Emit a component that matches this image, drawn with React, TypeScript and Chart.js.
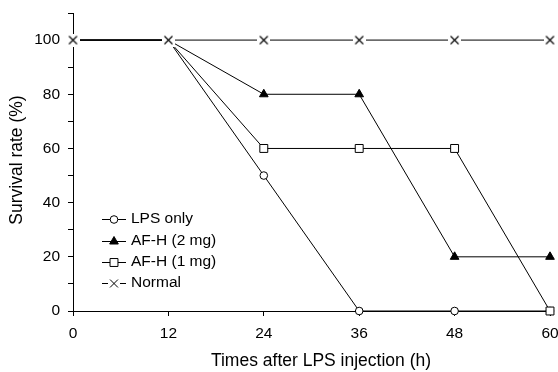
import React, { useEffect, useRef } from "react";
import { Chart, registerables } from "chart.js";

Chart.register(...registerables);

const hours = [0, 12, 24, 36, 48, 60];
const lpsOnly = [100, 100, 50, 0, 0, 0];
const afh2mg = [100, 100, 80, 80, 20, 20];
const afh1mg = [100, 100, 60, 60, 60, 0];
const normal = [100, 100, 100, 100, 100, 100];
const seriesNames = ["LPS only", "AF-H (2 mg)", "AF-H (1 mg)", "Normal"];
const yTickLabels = [0, 20, 40, 60, 80, 100];
const xTitle = "Times after LPS injection (h)";
const yTitle = "Survival rate (%)";

const FONT = "'Liberation Sans', Arial, sans-serif";

function makeCross(): HTMLCanvasElement {
  const c = document.createElement("canvas");
  c.width = 13;
  c.height = 13;
  const g = c.getContext("2d")!;
  g.fillStyle = "#ffffff";
  g.fillRect(0, 0, 13, 13);
  g.strokeStyle = "#000000";
  g.lineWidth = 1.1;
  g.beginPath();
  g.moveTo(2.5, 2.5);
  g.lineTo(10.5, 10.5);
  g.moveTo(2.5, 10.5);
  g.lineTo(10.5, 2.5);
  g.stroke();
  return c;
}

const styles = [
  { pointStyle: "circle", radius: 3.8, bg: "#ffffff" },
  { pointStyle: "triangle", radius: 5, bg: "#000000" },
  { pointStyle: "rect", radius: 5.6, bg: "#ffffff" },
  { pointStyle: "crossRot", radius: 5.6, bg: "#000000" },
];

function drawPointLocal(ctx: any, style: string, r: number, x: number, y: number) {
  ctx.beginPath();
  switch (style) {
    case "circle":
      ctx.arc(x, y, r, 0, Math.PI * 2);
      ctx.closePath();
      ctx.fill();
      ctx.stroke();
      break;
    case "triangle": {
      const a = -Math.PI / 2;
      for (let k = 0; k < 3; k++) {
        const ang = a + (k * 2 * Math.PI) / 3;
        const px = x + Math.cos(ang) * r;
        const py = y + Math.sin(ang) * r;
        if (k === 0) ctx.moveTo(px, py);
        else ctx.lineTo(px, py);
      }
      ctx.closePath();
      ctx.fill();
      ctx.stroke();
      break;
    }
    case "rect": {
      const s = Math.SQRT1_2 * r;
      ctx.rect(x - s, y - s, 2 * s, 2 * s);
      ctx.fill();
      ctx.stroke();
      break;
    }
    case "crossRot": {
      ctx.fillStyle = "#fff";
      ctx.fillRect(x - 6, y - 6, 12, 12);
      const s = Math.SQRT1_2 * r;
      ctx.beginPath();
      ctx.moveTo(x - s, y - s);
      ctx.lineTo(x + s, y + s);
      ctx.moveTo(x - s, y + s);
      ctx.lineTo(x + s, y - s);
      ctx.stroke();
      break;
    }
  }
}

const legendPlugin = {
  id: "insideLegend",
  afterDraw(chart: any) {
    const ctx = chart.ctx;
    const x1 = 102;
    const x2 = 126;
    const ys = [219, 241, 262, 283];
    ctx.save();
    seriesNames.forEach((name, i) => {
      const y = ys[i] + 0.5;
      const st = styles[i];
      ctx.strokeStyle = "#000";
      ctx.lineWidth = 1;
      ctx.beginPath();
      ctx.moveTo(x1, y);
      ctx.lineTo(x2, y);
      ctx.stroke();
      ctx.fillStyle = st.bg;
      ctx.strokeStyle = "#000";
      drawPointLocal(ctx, st.pointStyle, st.radius, (x1 + x2) / 2, y);
      ctx.fillStyle = "#000";
      ctx.font = `15.5px ${FONT}`;
      ctx.textBaseline = "middle";
      ctx.textAlign = "left";
      ctx.fillText(name, 131, ys[i]);
    });
    // axis titles
    ctx.font = `17.5px ${FONT}`;
    ctx.textAlign = "center";
    ctx.textBaseline = "middle";
    ctx.fillText(xTitle, 321, 361);
    ctx.translate(17.5, 160);
    ctx.rotate(-Math.PI / 2);
    ctx.fillText(yTitle, 0, 0);
    ctx.restore();
  },
};

export default function App() {
  const canvasRef = useRef<HTMLCanvasElement>(null);

  useEffect(() => {
    const canvas = canvasRef.current;
    if (!canvas) return;
    const cross = makeCross();
    const allSeries = [lpsOnly, afh2mg, afh1mg, normal];
    const chart = new Chart(canvas, {
      type: "line",
      data: {
        datasets: allSeries.map((vals, i) => ({
          label: seriesNames[i],
          data: hours.map((h, j) => ({ x: h, y: vals[j] })),
          borderColor: "#000000",
          borderWidth: 1,
          backgroundColor: styles[i].bg,
          pointBackgroundColor: styles[i].bg,
          pointBorderColor: "#000000",
          pointBorderWidth: 1,
          pointStyle: (i === 3 ? cross : styles[i].pointStyle) as any,
          pointRadius: i === 3 ? styles[i].radius : hours.map((h) => (h <= 12 ? 0 : styles[i].radius)),
          tension: 0,
          clip: false as any,
          order: 4 - i,
        })),
      },
      options: {
        animation: false,
        responsive: false,
        maintainAspectRatio: false,
        layout: { padding: { left: 0, top: 13, right: 8, bottom: 0 } },
        plugins: {
          legend: { display: false },
          tooltip: { enabled: false },
        },
        scales: {
          x: {
            type: "linear",
            min: 0,
            max: 60,
            border: { display: true, color: "#000", width: 1 },
            grid: { display: true, drawOnChartArea: false, drawTicks: true, tickLength: 5, color: "#000" },
            ticks: {
              stepSize: 12,
              color: "#000",
              font: { family: FONT, size: 15.5 },
              padding: 8,
              maxRotation: 0,
            },
            title: { display: false },
            afterFit: (scale: any) => {
              scale.height = 61;
              scale.paddingLeft = 0;
              scale.paddingRight = 0;
            },
          },
          y: {
            type: "linear",
            min: 0,
            max: 110,
            border: { display: true, color: "#000", width: 1 },
            grid: { display: true, drawOnChartArea: false, drawTicks: true, tickLength: 5, color: "#000" },
            ticks: {
              stepSize: 10,
              color: "#000",
              font: { family: FONT, size: 15.5 },
              padding: 8,
              autoSkip: false,
              callback: (v: any) => (yTickLabels.includes(Number(v)) ? String(v) : ""),
            },
            title: { display: false },
            afterFit: (scale: any) => {
              scale.width = 73;
              scale.paddingTop = 0;
              scale.paddingBottom = 0;
            },
          },
        },
      },
      plugins: [legendPlugin],
    });
    return () => chart.destroy();
  }, []);

  return (
    <div style={{ position: "fixed", left: 0, top: 0, width: 558, height: 372, background: "#fff" }}>
      <canvas ref={canvasRef} width={558} height={372} style={{ width: 558, height: 372, display: "block" }} />
    </div>
  );
}
